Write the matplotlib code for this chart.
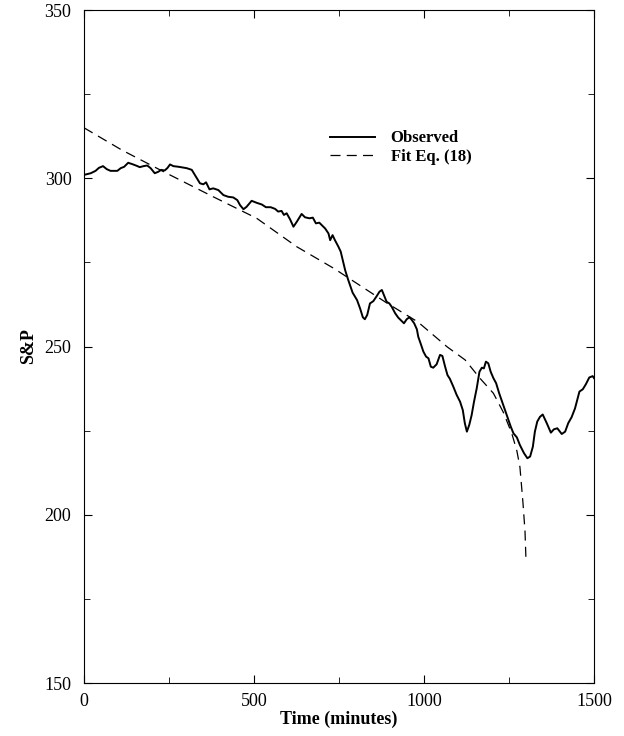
import matplotlib.pyplot as plt
from matplotlib.ticker import MultipleLocator

plt.rcParams["font.family"] = ["Liberation Serif", "DejaVu Serif"]

# Observed S&P index
obs_t = [0, 20, 34, 44, 56, 67, 78, 98, 108, 118, 130, 142, 155, 164, 175, 186, 196, 208,
         218, 227, 237, 245, 253, 263, 279, 302, 317, 329, 341, 351, 359, 369, 380, 395,
         410, 424, 439, 451, 459, 469, 478, 493, 508, 523, 535, 549, 562, 571, 581, 588,
         596, 606, 616, 626, 640, 650, 663, 673, 682, 692, 699, 709, 719, 724, 731, 738,
         748, 755, 761, 768, 777, 790, 803, 812, 820, 826, 833, 841, 851, 861, 869, 876,
         882, 890, 898, 905, 915, 924, 934, 941, 949, 957, 964, 971, 979, 983, 990, 998,
         1006, 1013, 1020, 1027, 1037, 1047, 1054, 1062, 1069, 1076, 1086, 1096, 1106, 1114,
         1120, 1126, 1133, 1140, 1147, 1155, 1163, 1170, 1176, 1182, 1189, 1196, 1204, 1212,
         1221, 1233, 1245, 1255, 1263, 1273, 1282, 1294, 1304, 1312, 1320, 1326, 1333, 1341,
         1349, 1361, 1373, 1382, 1392, 1405, 1415, 1424, 1434, 1444, 1457, 1467, 1476, 1486,
         1496, 1500]
obs_v = [301.0, 301.5, 302.2, 303.1, 303.6, 302.7, 302.2, 302.2, 303.0, 303.4, 304.6, 304.2,
         303.7, 303.3, 303.6, 303.8, 303.0, 301.5, 301.9, 302.5, 302.3, 303.0, 304.1, 303.6,
         303.4, 303.0, 302.5, 300.5, 298.5, 298.2, 298.8, 296.7, 297.0, 296.5, 295.0, 294.5,
         294.3, 293.5, 292.0, 290.8, 291.5, 293.3, 292.7, 292.2, 291.4, 291.4, 290.9, 290.1,
         290.3, 289.1, 289.6, 287.8, 285.6, 287.1, 289.4, 288.4, 288.1, 288.3, 286.6, 286.8,
         286.1, 285.1, 283.6, 281.6, 283.1, 281.6, 279.7, 278.2, 275.7, 272.7, 269.8, 266.0,
         263.8, 261.3, 258.7, 258.1, 259.4, 262.8, 263.5, 265.0, 266.3, 266.8, 265.3, 263.3,
         262.8, 261.8, 259.9, 258.6, 257.6, 256.9, 258.1, 258.7, 257.9, 256.9, 255.1, 252.9,
         250.9, 248.5, 247.0, 246.5, 244.0, 243.7, 244.7, 247.5, 247.2, 244.0, 241.5, 240.4,
         238.1, 235.6, 233.6, 231.1, 227.2, 224.7, 226.7, 229.6, 233.6, 237.6, 242.5, 243.7,
         243.5, 245.5, 245.0, 242.5, 240.6, 239.1, 236.1, 232.6, 229.1, 226.2, 224.2, 223.0,
         220.7, 218.3, 216.8, 217.3, 220.2, 224.7, 227.7, 229.1, 229.8, 227.2, 224.4, 225.4,
         225.7, 224.0, 224.7, 227.2, 229.0, 231.6, 236.6, 237.3, 238.8, 240.8, 241.2, 240.6]

# Fit Eq. (18)
fit_t = [0, 111, 233, 380, 508, 625, 735, 891, 982, 1068, 1121, 1165, 1204, 1233, 1258,
         1273, 1282, 1291, 1297, 1300]
fit_v = [315.0, 308.4, 302.0, 294.5, 288.1, 279.7, 273.2, 262.9, 257.3, 249.9, 246.0,
         240.5, 236.1, 230.5, 224.2, 219.0, 214.2, 203.5, 195.0, 186.0]

fig = plt.figure(figsize=(6.24, 7.36), dpi=100)
ax = fig.add_axes([0.1346, 0.072, 0.8174, 0.9144])

ax.plot(obs_t, obs_v, color="black", lw=1.4, label="Observed")
ax.plot(fit_t, fit_v, color="black", lw=0.9, dashes=(8, 5), label="Fit Eq. (18)")

ax.set_xlim(0, 1500)
ax.set_ylim(150, 350)
ax.xaxis.set_major_locator(MultipleLocator(500))
ax.xaxis.set_minor_locator(MultipleLocator(250))
ax.yaxis.set_major_locator(MultipleLocator(50))
ax.yaxis.set_minor_locator(MultipleLocator(25))
ax.tick_params(which="both", direction="in", top=True, right=True, labelsize=13)
ax.tick_params(which="major", length=6)
ax.tick_params(which="minor", length=4)
ax.tick_params(axis="x", which="major", pad=7)
ax.tick_params(axis="y", which="major", pad=9)

ax.set_xlabel("Time (minutes)", fontsize=13, fontweight="bold", labelpad=1)
ax.set_ylabel("S&P", fontsize=13, fontweight="bold", labelpad=5)

leg = ax.legend(loc="upper left", bbox_to_anchor=(0.469, 0.831), borderaxespad=0,
                frameon=False, prop={"weight": "bold", "size": 12}, handlelength=2.7,
                handletextpad=0.95, labelspacing=0.15)

fig.savefig("out.png", dpi=100)
